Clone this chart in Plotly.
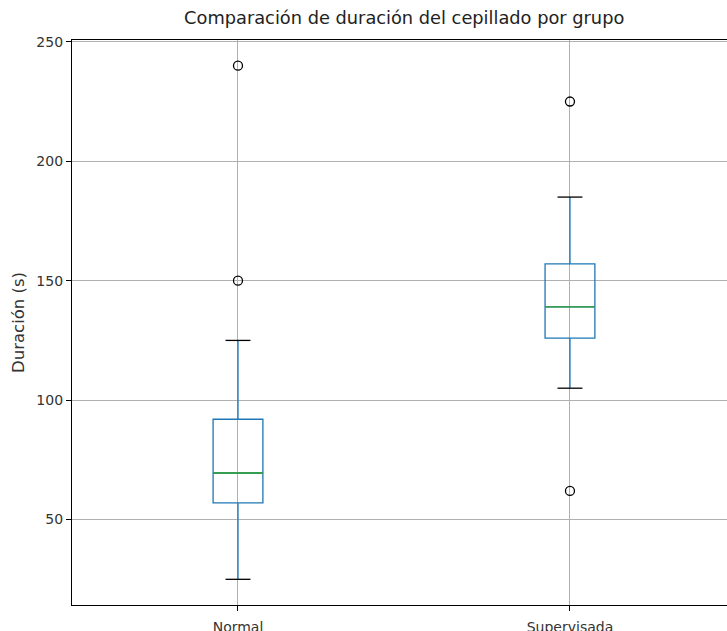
import plotly.graph_objects as go

categories = ["Normal", "Supervisada"]
positions = [1, 2]
lower_whisker = [25, 105]
q1 = [57, 126]
median = [69.5, 139]
q3 = [92, 157]
upper_whisker = [125, 185]
outliers_normal = [150, 240]
outliers_supervisada = [62, 225]

BOX_W = 0.15
CAP_W = 0.075

fig = go.Figure()

fig.add_trace(go.Box(
    x=positions, q1=q1, median=median, q3=q3,
    lowerfence=lower_whisker, upperfence=upper_whisker,
    width=BOX_W, whiskerwidth=0, boxpoints=False,
    line=dict(color="#1f77b4", width=1.3),
    fillcolor="rgba(0,0,0,0)", showlegend=False, hoverinfo="skip",
))

for i, p in enumerate(positions):
    fig.add_trace(go.Scatter(
        x=[p - BOX_W / 2, p + BOX_W / 2], y=[median[i], median[i]],
        mode="lines", line=dict(color="#2ca02c", width=1.3),
        showlegend=False, hoverinfo="skip"))
    for v in (lower_whisker[i], upper_whisker[i]):
        fig.add_trace(go.Scatter(
            x=[p - CAP_W / 2, p + CAP_W / 2], y=[v, v],
            mode="lines", line=dict(color="black", width=1.3),
            showlegend=False, hoverinfo="skip"))

for p, outs in zip(positions, [outliers_normal, outliers_supervisada]):
    fig.add_trace(go.Scatter(
        x=[p] * len(outs), y=outs, mode="markers",
        marker=dict(symbol="circle-open", size=9, color="black", line=dict(width=1.3)),
        showlegend=False, hoverinfo="skip"))

fig.update_layout(
    width=727, height=631,
    margin=dict(l=72, r=0, t=40, b=26),
    paper_bgcolor="white", plot_bgcolor="white",
    font=dict(family="DejaVu Sans", size=14, color="black"),
    title=dict(text="Comparación de duración del cepillado por grupo",
               xref="container", yref="container",
               x=0.556, xanchor="center", y=1 - 18 / 631, yanchor="middle",
               font=dict(size=17.8, color="#222")),
)
fig.update_xaxes(
    range=[0.5, 2.473], tickmode="array", tickvals=positions, ticktext=categories,
    showgrid=True, gridcolor="#b0b0b0", gridwidth=1, zeroline=False,
    showline=True, linecolor="black", linewidth=1.3, mirror=True,
    ticks="outside", ticklen=5, tickcolor="black", automargin=False,
    ticklabelstandoff=4,
    tickfont=dict(size=14, color="#333"),
)
fig.update_yaxes(
    range=[14.25, 250.75], tickmode="array", tickvals=[50, 100, 150, 200, 250],
    showgrid=True, gridcolor="#b0b0b0", gridwidth=1, zeroline=False,
    showline=True, linecolor="black", linewidth=1.3,
    ticks="outside", ticklen=5, tickcolor="black", automargin=False,
    tickfont=dict(size=14, color="#333"),
    title=dict(text="Duración (s)", standoff=7, font=dict(size=16.5, color="#333")),
)

fig.write_html("out.html", config={"displayModeBar": False},
               post_script="document.body.style.margin='0';")
